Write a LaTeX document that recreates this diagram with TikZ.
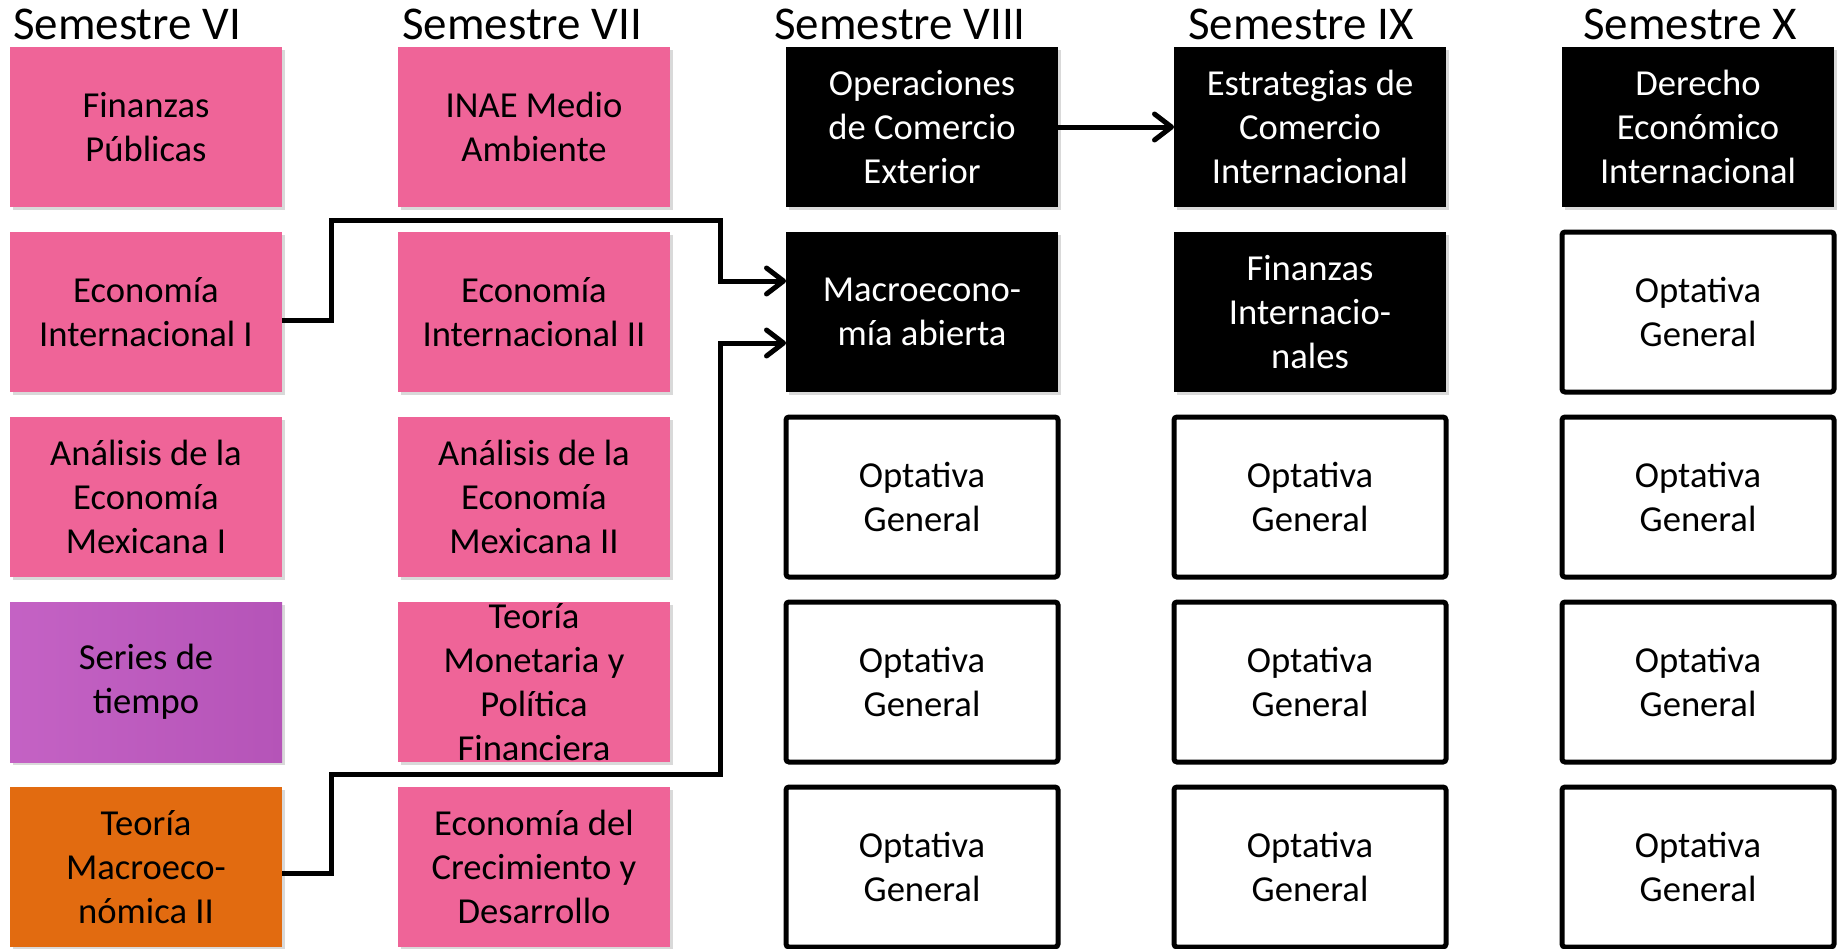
\documentclass[tikz,border=0pt]{standalone}
\usepackage{fontspec}
\setmainfont{Carlito}
\usetikzlibrary{arrows.meta,shadows}
\definecolor{pinkc}{RGB}{239,100,152}
\definecolor{purpA}{RGB}{196,98,196}
\definecolor{purpB}{RGB}{181,84,184}
\definecolor{orangec}{RGB}{226,107,16}
\tikzset{
  boxbase/.style={rectangle, minimum width=272pt, minimum height=160pt, inner sep=0pt, outer sep=0pt, align=center, font=\fontsize{36.6pt}{44pt}\selectfont},
  shad/.style={drop shadow={shadow xshift=3pt, shadow yshift=-3pt, opacity=0.3}},
  pinkbox/.style={boxbase, shad, fill=pinkc, text=black},
  purpbox/.style={boxbase, shad, left color=purpA, right color=purpB, text=black},
  orangebox/.style={boxbase, shad, fill=orangec, text=black},
  blackbox/.style={boxbase, shad, fill=black, text=white},
  optbox/.style={boxbase, fill=white, draw=black, line width=5pt, rounded corners=3pt, text=black},
  lbl/.style={inner sep=0pt, align=center, font=\fontsize{36.6pt}{44pt}\selectfont},
  semtitle/.style={anchor=base west, inner sep=0pt, font=\fontsize{47pt}{56pt}\selectfont},
  conn/.style={draw=black, line width=5pt, line join=miter},
  arr/.style={conn, -{Straight Barb[length=17pt,width=26pt,round]}}
}
\begin{document}
\begin{tikzpicture}[x=1pt,y=-1pt]
\useasboundingbox (0,0) rectangle (1843,948);
% titles
\node[semtitle] (t6) at (13,39) {Semestre VI};
\node[semtitle] (t7) at (402,39) {Semestre VII};
\node[semtitle] (t8) at (774,39) {Semestre VIII};
\node[semtitle] (t9) at (1188,39) {Semestre IX};
\node[semtitle] (t10) at (1583,39) {Semestre X};
% column VI
\node[pinkbox] (c1r1) at (146,127) {Finanzas\\Públicas};
\node[pinkbox] (c1r2) at (146,312) {Economía\\Internacional I};
\node[pinkbox] (c1r3) at (146,497) {Análisis de la\\Economía\\Mexicana I};
\node[purpbox] (c1r4) at (146,682) {Series de\\tiempo};
\node[orangebox] (c1r5) at (146,867) {Teoría\\Macroeco-\\nómica II};
% column VII
\node[pinkbox] (c2r1) at (534,127) {INAE Medio\\Ambiente};
\node[pinkbox] (c2r2) at (534,312) {Economía\\Internacional II};
\node[pinkbox] (c2r3) at (534,497) {Análisis de la\\Economía\\Mexicana II};
\node[pinkbox] (c2r4) at (534,682) {};
\node[lbl] (c2r4t) at (c2r4.center) {Teoría\\Monetaria y\\Política\\Financiera};
\node[pinkbox] (c2r5) at (534,867) {Economía del\\Crecimiento y\\Desarrollo};
% column VIII
\node[blackbox] (c3r1) at (922,127) {Operaciones\\de Comercio\\Exterior};
\node[blackbox] (c3r2) at (922,312) {Macroecono-\\mía abierta};
\node[optbox] (c3r3) at (922,497) {Optativa\\General};
\node[optbox] (c3r4) at (922,682) {Optativa\\General};
\node[optbox] (c3r5) at (922,867) {Optativa\\General};
% column IX
\node[blackbox] (c4r1) at (1310,127) {Estrategias de\\Comercio\\Internacional};
\node[blackbox] (c4r2) at (1310,312) {Finanzas\\Internacio-\\nales};
\node[optbox] (c4r3) at (1310,497) {Optativa\\General};
\node[optbox] (c4r4) at (1310,682) {Optativa\\General};
\node[optbox] (c4r5) at (1310,867) {Optativa\\General};
% column X
\node[blackbox] (c5r1) at (1698,127) {Derecho\\Económico\\Internacional};
\node[optbox] (c5r2) at (1698,312) {Optativa\\General};
\node[optbox] (c5r3) at (1698,497) {Optativa\\General};
\node[optbox] (c5r4) at (1698,682) {Optativa\\General};
\node[optbox] (c5r5) at (1698,867) {Optativa\\General};
% connectors
\coordinate (k1) at (331,220);
\coordinate (k2) at (720,220);
\coordinate (k3) at (331,774);
\coordinate (k4) at (720,774);
\draw[arr] ([yshift=-8pt]c1r2.east) -| (k1) -- (k2) |- ([yshift=31pt]c3r2.west);
\draw[arr] ([yshift=-6pt]c1r5.east) -| (k3) -- (k4) |- ([yshift=-31pt]c3r2.west);
\draw[arr] (c3r1.east) -- (c4r1.west);
\end{tikzpicture}
\end{document}
